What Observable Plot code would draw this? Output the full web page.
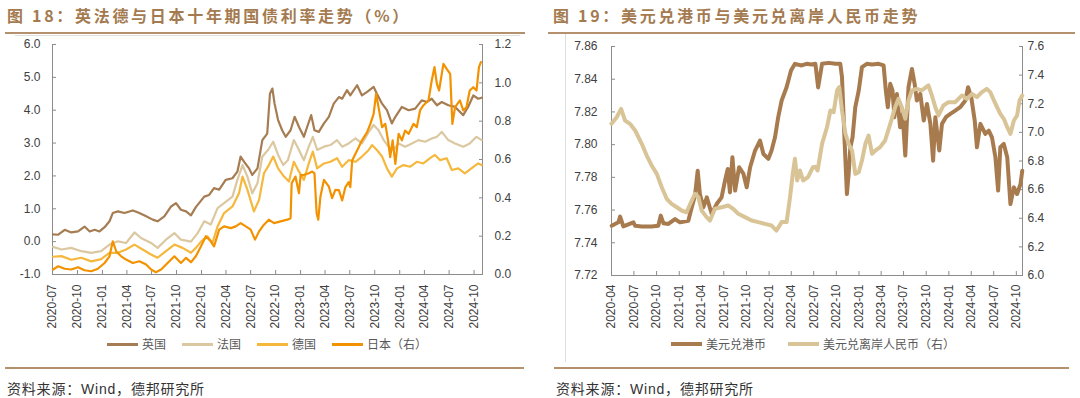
<!DOCTYPE html>
<html><head><meta charset="utf-8">
<script src="https://cdn.jsdelivr.net/npm/d3@7"></script>
<script src="https://cdn.jsdelivr.net/npm/@observablehq/plot@0.6"></script>
<style>
body{margin:0;background:#fff;}
#root{position:relative;width:1080px;height:398px;overflow:hidden;font-family:"Noto Sans CJK SC",sans-serif;background:#fff;}
.title{position:absolute;top:3px;font-size:16px;font-weight:bold;color:#a47b50;letter-spacing:2.7px;white-space:nowrap;line-height:24px;}
.rule{position:absolute;height:2px;background:#b4906c;}
.thin{position:absolute;background:#dedede;}
.chart{position:absolute;top:36px;}
.legend{position:absolute;top:335px;display:flex;align-items:center;font-size:12px;color:#595959;white-space:nowrap;line-height:18px;}
.legend .it{display:flex;align-items:center;}
.legend .sw{display:inline-block;width:31px;margin-right:4px;}
.source{position:absolute;top:378px;font-size:14px;color:#333;letter-spacing:0.8px;white-space:nowrap;line-height:20px;}
.source .w{font-family:"Liberation Sans",Arial,sans-serif;}
</style></head>
<body><div id="root">
<div class="title" style="left:7px">图 18：英法德与日本十年期国债利率走势（%）</div>
<div class="title" style="left:553px">图 19：美元兑港币与美元兑离岸人民币走势</div>
<div class="rule" style="left:5px;width:520px;top:32px"></div>
<div class="rule" style="left:548px;width:527px;top:32px"></div>
<div class="thin" style="left:15px;width:505px;top:35px;height:1px"></div>
<div class="thin" style="left:565px;width:1px;top:34px;height:328px"></div>
<div class="chart" id="c1" style="left:0"></div>
<div class="chart" id="c2" style="left:540px"></div>
<div class="legend" id="lg1"></div>
<div class="legend" id="lg2"></div>
<div class="rule" style="left:5px;width:519px;top:367px"></div>
<div class="rule" style="left:554px;width:515px;top:367px"></div>
<div class="source" style="left:7px">资料来源：<span class="w">Wind</span>，德邦研究所</div>
<div class="source" style="left:556px">资料来源：<span class="w">Wind</span>，德邦研究所</div>
</div>
<script>
// ---------- DATA ----------
const ukYield = [["2020-07-03",0.22],["2020-07-22",0.21],["2020-08-15",0.36],["2020-09-08",0.28],["2020-10-03",0.31],["2020-10-27",0.46],["2020-11-15",0.31],["2020-12-03",0.36],["2020-12-21",0.31],["2021-01-09",0.44],["2021-01-27",0.62],["2021-02-08",0.87],["2021-02-27",0.92],["2021-03-23",0.87],["2021-04-23",0.95],["2021-05-17",0.87],["2021-06-11",0.77],["2021-07-05",0.67],["2021-07-23",0.62],["2021-08-17",0.77],["2021-09-11",1.07],["2021-09-29",1.17],["2021-10-17",0.97],["2021-11-05",0.92],["2021-11-23",0.80],["2021-12-11",1.05],["2022-01-11",1.37],["2022-01-29",1.42],["2022-02-16",1.63],["2022-03-07",1.58],["2022-03-31",1.88],["2022-04-25",1.93],["2022-05-13",2.13],["2022-05-25",2.59],["2022-06-07",2.43],["2022-06-25",2.23],["2022-07-07",2.03],["2022-07-26",2.23],["2022-08-13",3.09],["2022-08-31",3.29],["2022-09-10",4.50],["2022-09-19",4.66],["2022-09-27",4.20],["2022-10-10",3.70],["2022-10-25",3.39],["2022-11-07",3.19],["2022-11-25",3.39],["2022-12-10",3.80],["2022-12-26",3.49],["2023-01-13",3.19],["2023-01-25",3.49],["2023-02-09",3.85],["2023-02-21",3.39],["2023-03-09",3.34],["2023-03-28",3.60],["2023-04-15",3.80],["2023-05-03",4.20],["2023-05-22",4.40],["2023-06-03",4.35],["2023-06-21",4.61],["2023-07-03",4.45],["2023-07-28",4.76],["2023-08-15",4.45],["2023-09-03",4.56],["2023-09-27",4.71],["2023-10-09",4.50],["2023-10-28",4.20],["2023-11-15",4.00],["2023-12-03",3.60],["2023-12-16",3.80],["2024-01-09",4.10],["2024-02-03",4.00],["2024-02-27",4.05],["2024-03-22",4.30],["2024-04-10",4.25],["2024-04-28",4.35],["2024-05-17",4.15],["2024-06-04",4.25],["2024-06-28",4.15],["2024-07-23",4.10],["2024-08-22",3.85],["2024-09-09",4.10],["2024-09-28",4.45],["2024-10-16",4.35],["2024-10-29",4.38]];
const frYield = [["2020-07-03",-0.16],["2020-08-03",-0.24],["2020-09-08",-0.19],["2020-10-15",-0.29],["2020-11-21",-0.34],["2020-12-27",-0.29],["2021-01-27",-0.09],["2021-02-27",0.01],["2021-03-29",-0.04],["2021-04-29",0.28],["2021-05-23",0.11],["2021-06-29",-0.04],["2021-07-23",-0.19],["2021-08-23",0.06],["2021-09-23",0.26],["2021-10-17",0.06],["2021-11-23",0.00],["2021-12-17",0.25],["2022-01-11",0.62],["2022-02-04",0.52],["2022-03-01",1.02],["2022-03-25",1.17],["2022-04-25",1.37],["2022-05-13",1.88],["2022-06-01",2.33],["2022-06-19",1.98],["2022-07-07",1.47],["2022-07-26",1.78],["2022-08-13",2.59],["2022-09-03",2.79],["2022-09-22",3.04],["2022-10-10",2.64],["2022-10-29",2.33],["2022-11-15",2.48],["2022-12-07",3.09],["2022-12-26",2.79],["2023-01-13",2.48],["2023-01-31",2.89],["2023-02-15",3.19],["2023-03-03",2.79],["2023-03-28",2.89],["2023-04-21",2.94],["2023-05-15",3.09],["2023-06-03",2.89],["2023-06-27",2.99],["2023-07-22",3.14],["2023-08-15",2.99],["2023-09-09",3.34],["2023-09-27",3.55],["2023-10-15",3.39],["2023-11-03",3.09],["2023-11-21",2.89],["2023-12-09",2.79],["2023-12-28",2.99],["2024-01-21",2.89],["2024-02-15",2.99],["2024-03-10",3.09],["2024-04-04",3.04],["2024-04-28",3.14],["2024-05-17",3.19],["2024-06-04",3.34],["2024-06-28",3.09],["2024-07-23",2.99],["2024-08-22",2.89],["2024-09-15",2.99],["2024-10-10",3.19],["2024-10-29",3.09]];
const deYield = [["2020-07-03",-0.46],["2020-08-03",-0.44],["2020-09-08",-0.55],["2020-10-15",-0.49],["2020-11-21",-0.60],["2020-12-27",-0.53],["2021-01-27",-0.34],["2021-02-27",-0.34],["2021-03-29",-0.24],["2021-04-29",-0.09],["2021-05-29",-0.24],["2021-06-29",-0.39],["2021-07-23",-0.49],["2021-08-23",-0.29],["2021-09-23",-0.09],["2021-10-23",-0.19],["2021-11-23",-0.34],["2021-12-11",-0.19],["2021-12-30",0.00],["2022-01-23",0.16],["2022-02-10",-0.04],["2022-03-01",0.46],["2022-03-25",0.87],["2022-04-25",1.07],["2022-05-19",1.47],["2022-06-01",1.98],["2022-06-19",1.58],["2022-07-13",0.92],["2022-08-01",1.27],["2022-08-19",2.08],["2022-09-06",2.33],["2022-09-22",2.59],["2022-10-10",2.23],["2022-11-01",1.98],["2022-11-19",1.83],["2022-12-07",2.43],["2022-12-26",2.13],["2023-01-13",1.88],["2023-01-31",2.38],["2023-02-15",2.74],["2023-03-03",2.23],["2023-03-28",2.38],["2023-04-21",2.43],["2023-05-15",2.54],["2023-06-03",2.28],["2023-06-27",2.48],["2023-07-22",2.43],["2023-08-15",2.59],["2023-09-09",2.79],["2023-09-21",2.94],["2023-10-09",2.79],["2023-10-28",2.59],["2023-11-15",2.23],["2023-12-03",1.98],["2023-12-22",2.23],["2024-01-15",2.33],["2024-02-09",2.28],["2024-03-04",2.43],["2024-03-28",2.38],["2024-04-22",2.54],["2024-05-10",2.64],["2024-05-29",2.48],["2024-06-22",2.54],["2024-07-11",2.18],["2024-08-04",2.23],["2024-08-28",2.08],["2024-09-21",2.23],["2024-10-16",2.38],["2024-10-29",2.33]];
const jpYield = [["2020-07-03",0.026],["2020-07-22",0.043],["2020-08-15",0.030],["2020-09-08",0.026],["2020-10-03",0.038],["2020-10-27",0.022],["2020-11-21",0.017],["2020-12-15",0.030],["2021-01-09",0.060],["2021-01-27",0.095],["2021-02-08",0.173],["2021-02-21",0.120],["2021-03-11",0.095],["2021-03-29",0.078],["2021-04-23",0.060],["2021-05-17",0.069],["2021-06-11",0.052],["2021-06-29",0.026],["2021-07-17",0.012],["2021-08-05",0.026],["2021-08-29",0.060],["2021-09-23",0.095],["2021-10-17",0.060],["2021-11-05",0.087],["2021-11-23",0.064],["2021-12-11",0.095],["2021-12-30",0.147],["2022-01-17",0.200],["2022-02-04",0.173],["2022-02-16",0.147],["2022-03-07",0.234],["2022-03-25",0.251],["2022-04-19",0.242],["2022-05-07",0.251],["2022-05-25",0.268],["2022-06-13",0.251],["2022-07-01",0.234],["2022-07-17",0.182],["2022-08-01",0.225],["2022-08-19",0.260],["2022-09-06",0.286],["2022-09-25",0.268],["2022-10-19",0.277],["2022-11-13",0.286],["2022-11-25",0.294],["2022-11-29",0.476],["2022-12-13",0.511],["2022-12-26",0.424],["2023-01-01",0.519],["2023-01-13",0.519],["2023-01-31",0.528],["2023-02-13",0.537],["2023-02-21",0.528],["2023-03-01",0.320],["2023-03-07",0.286],["2023-03-15",0.407],["2023-03-28",0.494],["2023-04-15",0.459],["2023-04-27",0.398],["2023-05-09",0.442],["2023-05-22",0.440],["2023-06-03",0.386],["2023-06-15",0.456],["2023-06-27",0.482],["2023-07-03",0.456],["2023-07-10",0.595],["2023-07-22",0.630],["2023-08-03",0.664],["2023-08-15",0.700],["2023-09-03",0.743],["2023-09-15",0.786],["2023-09-27",0.838],["2023-10-06",0.943],["2023-10-15",0.873],["2023-10-28",0.769],["2023-11-09",0.786],["2023-11-19",0.700],["2023-11-27",0.612],["2023-12-06",0.700],["2023-12-16",0.577],["2023-12-28",0.734],["2024-01-09",0.700],["2024-01-21",0.751],["2024-02-03",0.734],["2024-02-21",0.786],["2024-03-04",0.769],["2024-03-16",0.856],["2024-03-28",0.882],["2024-04-16",0.908],["2024-04-28",1.012],["2024-05-08",1.082],["2024-05-17",0.995],["2024-05-25",0.960],["2024-06-04",1.047],["2024-06-10",1.099],["2024-06-22",1.073],["2024-07-05",1.047],["2024-07-13",0.786],["2024-07-23",0.873],["2024-08-10",0.908],["2024-08-22",0.856],["2024-09-03",0.873],["2024-09-15",0.960],["2024-09-28",0.977],["2024-10-10",0.960],["2024-10-19",1.082],["2024-10-26",1.108]];

const usdHkd = [["2020-04-02",7.7504],["2020-04-29",7.7525],["2020-05-06",7.7560],["2020-05-19",7.7500],["2020-06-29",7.7525],["2020-07-06",7.7504],["2020-08-02",7.7500],["2020-09-11",7.7500],["2020-10-08",7.7504],["2020-10-18",7.7566],["2020-10-29",7.7519],["2020-11-18",7.7515],["2020-12-15",7.7545],["2021-01-04",7.7525],["2021-02-07",7.7535],["2021-02-21",7.7617],["2021-03-06",7.7688],["2021-03-17",7.7841],["2021-03-26",7.7698],["2021-04-09",7.7617],["2021-04-23",7.7678],["2021-05-13",7.7576],["2021-06-02",7.7637],["2021-06-22",7.7678],["2021-07-06",7.7780],["2021-07-17",7.7851],["2021-07-26",7.7708],["2021-08-05",7.7923],["2021-08-16",7.7719],["2021-09-01",7.7862],["2021-09-19",7.7821],["2021-10-02",7.7739],["2021-10-16",7.7862],["2021-11-05",7.7964],["2021-11-25",7.8025],["2021-12-09",7.7943],["2021-12-29",7.7913],["2022-01-11",7.7964],["2022-01-25",7.8045],["2022-02-07",7.8168],["2022-02-21",7.8270],["2022-03-13",7.8351],["2022-03-31",7.8453],["2022-04-16",7.8494],["2022-05-13",7.8484],["2022-06-02",7.8494],["2022-06-22",7.8490],["2022-07-08",7.8494],["2022-07-19",7.8350],["2022-08-04",7.8494],["2022-08-31",7.8500],["2022-09-27",7.8494],["2022-10-17",7.8494],["2022-10-24",7.8412],["2022-11-04",7.8004],["2022-11-13",7.7698],["2022-11-20",7.7821],["2022-11-27",7.7984],["2022-12-06",7.8045],["2022-12-17",7.8229],["2022-12-31",7.8331],["2023-01-13",7.8474],["2023-02-02",7.8494],["2023-02-23",7.8490],["2023-03-22",7.8494],["2023-04-11",7.8484],["2023-04-20",7.8331],["2023-04-28",7.8229],["2023-05-08",7.8372],["2023-05-17",7.8331],["2023-05-25",7.8168],["2023-06-04",7.8310],["2023-06-17",7.8106],["2023-06-27",7.8188],["2023-07-08",7.7933],["2023-07-21",7.8351],["2023-08-04",7.8463],["2023-08-15",7.8372],["2023-08-24",7.8270],["2023-09-07",7.8310],["2023-09-21",7.8147],["2023-10-04",7.8249],["2023-10-18",7.8127],["2023-10-29",7.7902],["2023-11-07",7.8168],["2023-11-23",7.7964],["2023-12-04",7.8127],["2023-12-20",7.8168],["2024-01-07",7.8188],["2024-01-27",7.8208],["2024-02-16",7.8229],["2024-03-08",7.8270],["2024-03-19",7.8351],["2024-04-01",7.8290],["2024-04-15",7.8147],["2024-04-24",7.7984],["2024-05-08",7.8127],["2024-05-28",7.8066],["2024-06-11",7.8086],["2024-06-24",7.8045],["2024-07-08",7.7923],["2024-07-19",7.7719],["2024-07-28",7.7984],["2024-08-11",7.8004],["2024-08-25",7.7923],["2024-09-07",7.7637],["2024-09-21",7.7739],["2024-10-04",7.7698],["2024-10-18",7.7760],["2024-10-25",7.7841]];
const usdCnh = [["2020-04-01",7.060],["2020-04-22",7.106],["2020-05-10",7.164],["2020-05-26",7.083],["2020-06-15",7.060],["2020-07-06",7.013],["2020-08-02",6.920],["2020-08-22",6.838],["2020-09-11",6.769],["2020-10-02",6.710],["2020-10-22",6.617],["2020-11-11",6.536],["2020-12-01",6.501],["2020-12-22",6.477],["2021-01-11",6.454],["2021-01-31",6.442],["2021-02-21",6.524],["2021-03-06",6.571],["2021-03-20",6.547],["2021-04-02",6.454],["2021-04-22",6.408],["2021-05-06",6.384],["2021-05-26",6.466],["2021-06-22",6.477],["2021-07-19",6.489],["2021-08-08",6.466],["2021-08-29",6.431],["2021-09-25",6.408],["2021-10-22",6.384],["2021-11-18",6.373],["2021-12-15",6.361],["2022-01-11",6.349],["2022-01-31",6.314],["2022-02-21",6.373],["2022-03-13",6.373],["2022-03-27",6.547],["2022-04-07",6.710],["2022-04-16",6.815],["2022-04-25",6.664],["2022-05-06",6.734],["2022-05-19",6.664],["2022-06-08",6.687],["2022-06-28",6.757],["2022-07-08",6.760],["2022-07-17",6.734],["2022-08-04",6.920],["2022-08-24",7.036],["2022-09-07",7.153],["2022-09-20",7.141],["2022-10-04",7.293],["2022-10-13",7.316],["2022-10-24",7.153],["2022-11-07",6.990],["2022-11-20",6.920],["2022-12-04",6.873],["2022-12-17",6.710],["2022-12-31",6.722],["2023-01-13",6.803],["2023-01-27",6.920],["2023-02-09",6.978],["2023-02-23",6.850],["2023-03-08",6.873],["2023-03-28",6.897],["2023-04-17",6.943],["2023-05-08",7.060],["2023-05-28",7.176],["2023-06-10",7.234],["2023-06-24",7.176],["2023-07-08",7.095],["2023-07-21",7.223],["2023-08-04",7.293],["2023-08-24",7.304],["2023-09-13",7.293],["2023-10-10",7.328],["2023-10-24",7.258],["2023-11-07",7.176],["2023-11-20",7.118],["2023-12-10",7.188],["2023-12-30",7.211],["2024-01-27",7.211],["2024-02-23",7.258],["2024-03-14",7.234],["2024-04-04",7.269],["2024-04-24",7.246],["2024-05-14",7.281],["2024-06-03",7.304],["2024-06-17",7.281],["2024-07-08",7.200],["2024-07-28",7.130],["2024-08-11",7.095],["2024-08-25",7.036],["2024-09-07",6.990],["2024-09-21",7.083],["2024-10-04",7.118],["2024-10-14",7.223],["2024-10-25",7.258]];

const leftXTicks = ["2020-07","2020-10","2021-01","2021-04","2021-07","2021-10","2022-01","2022-04","2022-07","2022-10","2023-01","2023-04","2023-07","2023-10","2024-01","2024-04","2024-07","2024-10"];
const rightXTicks = ["2020-04","2020-07","2020-10","2021-01","2021-04","2021-07","2021-10","2022-01","2022-04","2022-07","2022-10","2023-01","2023-04","2023-07","2023-10","2024-01","2024-04","2024-07","2024-10"];
const leftYTicks = [-1,0,1,2,3,4,5,6];
const jpYTicks = [0,0.2,0.4,0.6,0.8,1.0,1.2];
const hkdYTicks = [7.72,7.74,7.76,7.78,7.80,7.82,7.84,7.86];
const cnhYTicks = [6.0,6.2,6.4,6.6,6.8,7.0,7.2,7.4,7.6];
const leftXDomain = ["2020-07-01","2024-11-01"];
const rightXDomain = ["2020-04-01","2024-10-26"];

const leftSeries = ["英国","法国","德国","日本（右）"];
const leftColors = ["#a67c52","#dcc8a0","#f5b83d","#f39200"];
const rightSeries = ["美元兑港币","美元兑离岸人民币（右）"];
const rightColors = ["#a87b4f","#d8c497"];

// ---------- helpers ----------
const pm = d3.utcParse("%Y-%m");
const rows = arr => arr.map(([d, v]) => ({date: new Date(d + "T00:00:00Z"), v}));
const axisColor = "#8c8c8c";
const textColor = "#404040";
const fmt1 = d => d.toFixed(1);

// secondary-axis mapping: Japan (0..1.2) onto left scale (-1..6)
const jpToLeft = v => -1 + v * 7 / 1.2;
const leftToJp = y => (y + 1) * 1.2 / 7;
// CNH (6.0..7.6) onto HKD scale (7.72..7.86)
const cnhToHkd = v => 7.72 + (v - 6.0) * 0.14 / 1.6;
const hkdToCnh = y => 6.0 + (y - 7.72) * 1.6 / 0.14;

const styleBase = {fontFamily: "'Liberation Sans', Arial, sans-serif", fontSize: "12px", color: textColor, background: "transparent", overflow: "visible"};

// ---------- chart 1 ----------
const lx = leftXDomain.map(d => new Date(d + "T00:00:00Z"));
const c1 = Plot.plot({
  width: 540, height: 300,
  marginLeft: 52, marginRight: 58, marginTop: 8, marginBottom: 62,
  style: styleBase,
  x: {type: "utc", domain: lx, label: null},
  y: {domain: [-1, 6], label: null},
  marks: [
    Plot.ruleX([lx[0]], {stroke: axisColor}),
    Plot.ruleX([lx[1]], {stroke: axisColor}),
    Plot.ruleY([-1], {stroke: axisColor}),
    Plot.axisY(leftYTicks, {anchor: "left", label: null, tickFormat: fmt1, tickSize: -4, tickPadding: 16, stroke: axisColor}),
    Plot.axisY(jpYTicks.map(jpToLeft), {anchor: "right", label: null, tickFormat: d => fmt1(leftToJp(d)), tickSize: -4, tickPadding: 16, stroke: axisColor}),
    Plot.axisX(leftXTicks.map(pm), {anchor: "bottom", label: null, tickFormat: d3.utcFormat("%Y-%m"), tickRotate: -90, tickSize: -4, tickPadding: 14, stroke: axisColor}),
    Plot.line(rows(ukYield), {x: "date", y: "v", stroke: leftColors[0], strokeWidth: 2.2}),
    Plot.line(rows(frYield), {x: "date", y: "v", stroke: leftColors[1], strokeWidth: 2.2}),
    Plot.line(rows(deYield), {x: "date", y: "v", stroke: leftColors[2], strokeWidth: 2.2}),
    Plot.line(rows(jpYield), {x: "date", y: d => jpToLeft(d.v), stroke: leftColors[3], strokeWidth: 2.2})
  ]
});
document.getElementById("c1").appendChild(c1);

// ---------- chart 2 ----------
const rx = rightXDomain.map(d => new Date(d + "T00:00:00Z"));
const c2 = Plot.plot({
  width: 540, height: 300,
  marginLeft: 71, marginRight: 58, marginTop: 10, marginBottom: 61,
  style: styleBase,
  x: {type: "utc", domain: rx, label: null},
  y: {domain: [7.72, 7.86], label: null},
  marks: [
    Plot.ruleX([rx[0]], {stroke: axisColor}),
    Plot.ruleX([rx[1]], {stroke: axisColor}),
    Plot.ruleY([7.72], {stroke: axisColor}),
    Plot.axisY(hkdYTicks, {anchor: "left", label: null, tickFormat: d => d.toFixed(2), tickSize: -4, tickPadding: 18, stroke: axisColor}),
    Plot.axisY(cnhYTicks.map(cnhToHkd), {anchor: "right", label: null, tickFormat: d => fmt1(hkdToCnh(d)), tickSize: -4, tickPadding: 9, stroke: axisColor}),
    Plot.axisX(rightXTicks.map(pm), {anchor: "bottom", label: null, tickFormat: d3.utcFormat("%Y-%m"), tickRotate: -90, tickSize: -4, tickPadding: 13, stroke: axisColor}),
    Plot.line(rows(usdHkd), {x: "date", y: "v", stroke: rightColors[0], strokeWidth: 4}),
    Plot.line(rows(usdCnh), {x: "date", y: d => cnhToHkd(d.v), stroke: rightColors[1], strokeWidth: 4})
  ]
});
document.getElementById("c2").appendChild(c2);

// ---------- legends ----------
function legend(el, names, colors, thick, gap) {
  el.style.gap = gap + "px";
  names.forEach((n, i) => {
    const it = document.createElement("div"); it.className = "it";
    const sw = document.createElement("span"); sw.className = "sw";
    sw.style.height = thick + "px"; sw.style.background = colors[i];
    const t = document.createElement("span"); t.textContent = n;
    it.appendChild(sw); it.appendChild(t); el.appendChild(it);
  });
}
const lg1 = document.getElementById("lg1");
legend(lg1, leftSeries, leftColors, 3, 16);
lg1.style.left = "107px";
const lg2 = document.getElementById("lg2");
legend(lg2, rightSeries, rightColors, 4, 22);
lg2.style.left = "671px";
</script>
</body></html>
